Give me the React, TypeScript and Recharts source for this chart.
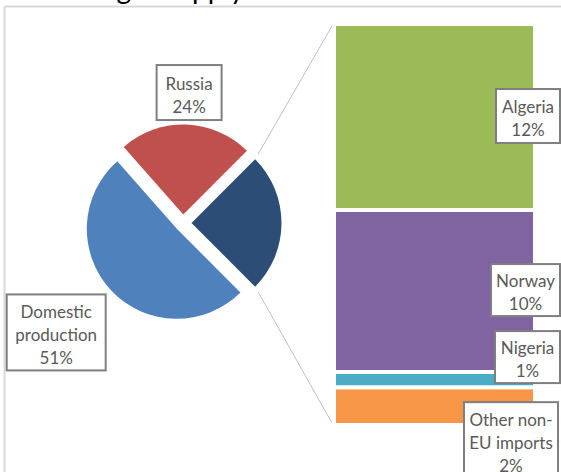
import React from 'react';
import { PieChart, Pie, Cell, BarChart, Bar, XAxis, YAxis, LabelList } from 'recharts';

// pie: the 'Other' slice is broken out into the stacked bar on the right
const pieNames = ['Other', 'Russia', 'Domestic\nproduction'];
const pieShares = [25, 24, 51];
const pieColors = ['#2c4d75', '#c0504d', '#4f81bd'];

// bar segments, bottom to top
const importNames = ['Other non-\nEU imports', 'Nigeria', 'Norway', 'Algeria'];
const importShares = [2.35, 0.95, 10.1, 11.6];
const importColors = ['#f79646', '#4bacc6', '#8064a2', '#9bbb59'];

const titleText = 'EU natural gas supply';

const W = 561;
const H = 472;
const FONT = 'Lato, "Open Sans", sans-serif';
const TEXT = '#595959';

const PIE = { x: 183, y: 223, r: 90, explode: 8.5 };
const BAR = { left: 334, top: 24, right: 535, bottom: 425, gap: 4 };

const pieStart = -(pieShares[0] / 100) * 180;
const pieMid = pieShares.map((v, i) => {
  const before = pieShares.slice(0, i).reduce((a, b) => a + b, 0);
  return pieStart + ((before + v / 2) / 100) * 360;
});
const RAD = Math.PI / 180;

const pieRows = pieNames.map((name, i) => ({ name, value: pieShares[i] }));
const importTotal = importShares.reduce((a, b) => a + b, 0);
const barRow: Record<string, number | string> = { cat: 'Other' };
importNames.forEach((_, i) => (barRow[`s${i}`] = importShares[i]));

// label box placement relative to the anchor (slice outer midpoint / segment right edge)
const pieLabelPlace: Record<number, { dx: number; dy: number; w: number; h: number }> = {
  1: { dx: 3, dy: -32, w: 65, h: 55 },
  2: { dx: -55, dy: 42, w: 99, h: 76 },
};
const barLabelPlace = [
  { dx: -24, dy: 34, w: 94, h: 76 },
  { dx: -7.5, dy: -22.6, w: 65, h: 52 },
  { dx: -9.5, dy: -1, w: 69, h: 52 },
  { dx: -7, dy: -1, w: 64, h: 54 },
];

function LabelBox({ cx, cy, w, h, lines }: { cx: number; cy: number; w: number; h: number; lines: string[] }) {
  const lh = 23;
  return (
    <g>
      <rect x={cx - w / 2} y={cy - h / 2} width={w} height={h} fill="#fff" stroke="#7f7f7f" strokeWidth={2} />
      {lines.map((t, k) => (
        <text
          key={k}
          x={cx}
          y={cy + (k - (lines.length - 1) / 2) * lh + 2}
          textAnchor="middle"
          dominantBaseline="central"
          fill={TEXT}
          fontSize={17}
          fontFamily={FONT}
        >
          {t}
        </text>
      ))}
    </g>
  );
}

const labelLines = (name: string, value: number) => [...name.split('\n'), `${Math.round(value)}%`];

function Frame() {
  const oc = { x: PIE.x + PIE.explode * Math.cos(pieMid[0] * RAD), y: PIE.y - PIE.explode * Math.sin(pieMid[0] * RAD) };
  const a1 = pieStart + (pieShares[0] / 100) * 360;
  const p1 = { x: oc.x + PIE.r * Math.cos(a1 * RAD), y: oc.y - PIE.r * Math.sin(a1 * RAD) };
  const p2 = { x: oc.x + PIE.r * Math.cos(pieStart * RAD), y: oc.y - PIE.r * Math.sin(pieStart * RAD) };
  const q1 = { x: BAR.left - 2, y: BAR.top + BAR.gap / 2 };
  const q2 = { x: BAR.left - 2, y: BAR.bottom - BAR.gap / 2 };
  const lerp = (a: { x: number; y: number }, b: { x: number; y: number }, t: number) => ({
    x: a.x + (b.x - a.x) * t,
    y: a.y + (b.y - a.y) * t,
  });
  const s1 = lerp(p1, q1, 0.04);
  const s2 = lerp(p2, q2, 0.04);
  return (
    <svg width={W} height={H} style={{ position: 'absolute', left: 0, top: 0 }}>
      <text x={-20} y={-1} fontSize={28} fontFamily={FONT} fill="#000">
        {titleText}
      </text>
      <line x1={4.5} y1={6.5} x2={W} y2={6.5} stroke="#d9d9d9" strokeWidth={2} />
      <line x1={4.5} y1={6.5} x2={4.5} y2={H} stroke="#d9d9d9" strokeWidth={2} />
      <line x1={s1.x} y1={s1.y} x2={q1.x} y2={q1.y} stroke="#bfbfbf" strokeWidth={1} />
      <line x1={s2.x} y1={s2.y} x2={q2.x} y2={q2.y} stroke="#bfbfbf" strokeWidth={1} />
    </svg>
  );
}

function ImportsBar({ labels }: { labels: boolean }) {
  return (
    <BarChart
      width={W}
      height={H}
      data={[barRow]}
      margin={{ top: BAR.top, right: W - BAR.right, bottom: H - BAR.bottom, left: BAR.left }}
      barCategoryGap={0}
    >
      <XAxis dataKey="cat" hide />
      <YAxis hide domain={[0, importTotal]} allowDataOverflow />
      {importNames.map((name, i) => (
        <Bar
          key={name}
          dataKey={`s${i}`}
          stackId="imports"
          fill={labels ? 'none' : importColors[i]}
          stroke={labels ? 'none' : '#fff'}
          strokeWidth={BAR.gap}
          isAnimationActive={false}
        >
          {labels && (
            <LabelList
              dataKey={`s${i}`}
              content={(p: any) => {
                const place = barLabelPlace[i];
                const xr = Number(p.x) + Number(p.width);
                const yc = Number(p.y) + Number(p.height) / 2;
                return (
                  <LabelBox
                    cx={xr + place.dx}
                    cy={yc + place.dy}
                    w={place.w}
                    h={place.h}
                    lines={labelLines(name, importShares[i])}
                  />
                );
              }}
            />
          )}
        </Bar>
      ))}
    </BarChart>
  );
}

function SupplyPie() {
  return (
    <PieChart width={W} height={H} margin={{ top: 0, right: 0, bottom: 0, left: 0 }}>
      {pieNames.map((_, i) => (
        <Pie
          key={i}
          data={pieRows}
          dataKey="value"
          nameKey="name"
          cx={PIE.x + PIE.explode * Math.cos(pieMid[i] * RAD)}
          cy={PIE.y - PIE.explode * Math.sin(pieMid[i] * RAD)}
          outerRadius={PIE.r}
          startAngle={pieStart}
          endAngle={pieStart + 360}
          stroke="none"
          isAnimationActive={false}
          labelLine={false}
          label={
            pieLabelPlace[i]
              ? (p: any) => {
                  if (p.index !== i) return null;
                  const place = pieLabelPlace[i];
                  const ax = p.cx + p.outerRadius * Math.cos(p.midAngle * RAD);
                  const ay = p.cy - p.outerRadius * Math.sin(p.midAngle * RAD);
                  return (
                    <LabelBox
                      cx={ax + place.dx}
                      cy={ay + place.dy}
                      w={place.w}
                      h={place.h}
                      lines={labelLines(pieNames[i], pieShares[i])}
                    />
                  );
                }
              : false
          }
        >
          {pieRows.map((_, j) => (
            <Cell key={j} fill={j === i ? pieColors[j] : 'transparent'} />
          ))}
        </Pie>
      ))}
    </PieChart>
  );
}

export default function App() {
  const layer: React.CSSProperties = { position: 'absolute', left: 0, top: 0 };
  return (
    <div style={{ position: 'absolute', left: 0, top: 0, width: W, height: H, background: '#fff', overflow: 'hidden' }}>
      <Frame />
      <div style={layer}>
        <ImportsBar labels={false} />
      </div>
      <div style={layer}>
        <SupplyPie />
      </div>
      <div style={layer}>
        <ImportsBar labels />
      </div>
    </div>
  );
}
